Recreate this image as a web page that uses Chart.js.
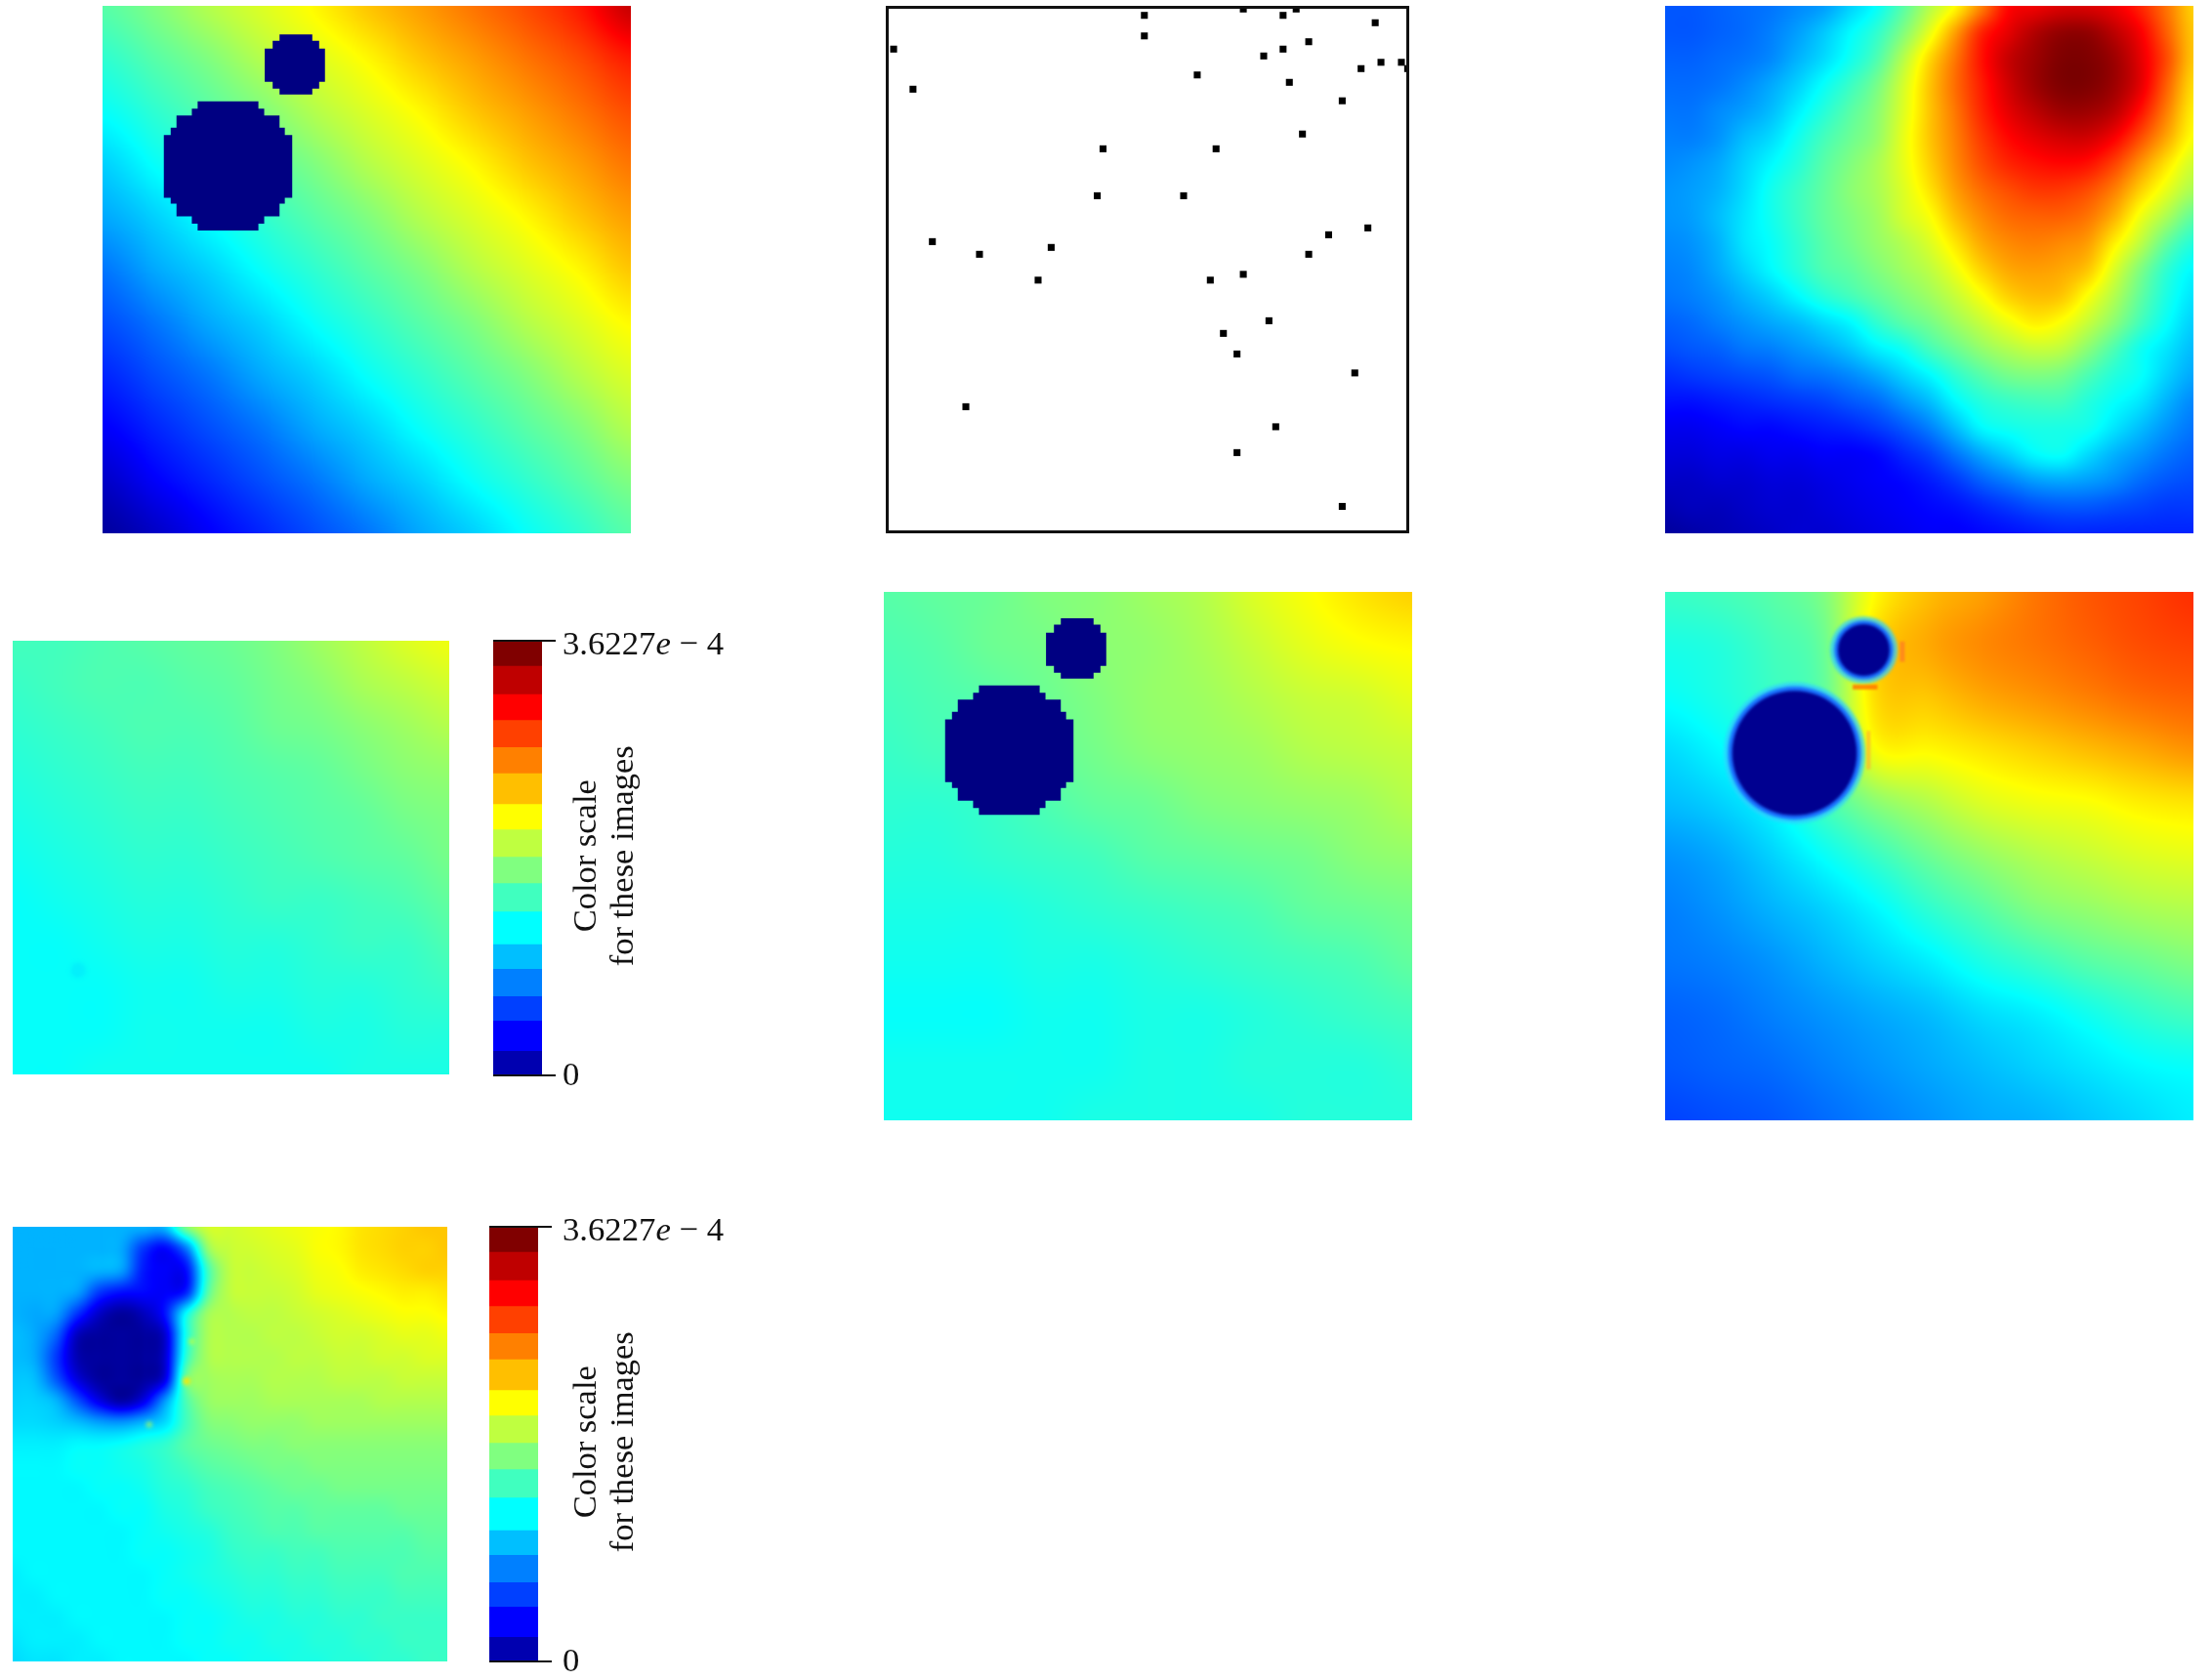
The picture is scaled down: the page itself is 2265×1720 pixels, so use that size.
<!DOCTYPE html>
<html>
<head>
<meta charset="utf-8">
<title>Color scale panels</title>
<script src="https://cdn.jsdelivr.net/npm/chart.js@4/dist/chart.umd.min.js"></script>
<style>
    body { margin: 0; background: #fff; }
    canvas { position: absolute; }
</style>
</head>
<body>
<script>
/* =========================
DATA
fields are percent of the colour scale, sampled every 10% or 5% of a panel, top row first
========================= */
const fieldA = [
    [46,50,55,59,63,68,72,76,80,85,93],
    [42,46,50,55,59,63,68,72,76,80,85],
    [38,42,46,50,55,59,63,68,72,76,80],
    [33,38,42,46,50,55,59,63,68,72,76],
    [29,33,38,42,46,50,55,59,63,68,72],
    [24,29,33,38,42,46,50,55,59,63,68],
    [20,24,29,33,38,42,46,50,55,59,63],
    [16,20,24,29,33,38,42,46,50,55,59],
    [12,16,20,24,29,33,38,42,46,50,55],
    [7,12,16,20,24,29,33,38,42,46,50],
    [3,7,12,16,20,24,29,33,38,42,46]
];
const fieldC = [
    [21,21,22,23,24,26,28,33,38,46,55,63,75,87,89,91,91,89,84,76,67],
    [21,21,22,23,25,28,32,37,42,50,60,72,84,90,95,98,98,94,88,78,68],
    [22,22,23,24,26,30,34,39,45,55,66,76,86,93,97,100,100,97,90,80,68],
    [23,23,24,26,29,33,38,43,49,58,68,77,85,92,97,100,100,97,90,78,66],
    [24,24,26,28,31,36,41,46,51,59,68,76,84,90,94,97,97,94,86,75,64],
    [25,25,27,31,34,39,44,48,52,60,68,75,82,87,90,92,92,88,80,71,62],
    [26,27,29,33,37,41,46,50,54,60,67,74,80,84,86,87,86,81,73,65,58],
    [27,28,30,34,39,43,47,51,54,59,65,72,77,80,82,82,80,75,67,60,54],
    [27,28,31,35,39,43,47,50,53,58,62,69,74,77,78,78,76,70,61,54,47],
    [26,27,30,35,38,42,46,49,52,55,59,65,71,74,75,74,72,64,56,47,41],
    [25,26,29,33,37,41,45,47,50,53,56,61,67,71,72,71,68,59,50,42,37],
    [24,25,27,30,33,37,41,44,47,50,53,57,62,67,69,68,62,55,47,40,35],
    [22,23,25,27,29,31,34,37,42,46,49,53,57,61,64,62,57,51,44,38,33],
    [20,21,22,24,25,27,29,32,36,39,44,48,52,55,57,56,51,45,39,35,31],
    [17,18,19,20,21,23,24,26,29,33,37,42,46,49,50,49,45,41,38,33,29],
    [14,14,15,16,17,18,19,21,23,27,31,37,41,43,44,44,41,38,35,30,26],
    [11,11,12,13,13,14,15,16,18,21,25,31,37,39,40,40,39,35,31,27,24],
    [9,9,10,10,11,11,12,12,13,16,19,24,29,33,37,38,34,30,27,24,22],
    [7,7,8,8,9,9,10,11,12,13,15,18,22,25,28,29,28,26,23,21,20],
    [5,6,6,7,8,8,9,10,11,12,13,14,16,18,20,21,21,20,19,18,18],
    [3,4,5,6,7,8,8,9,10,11,12,12,13,14,15,16,16,16,16,16,16]
];
const fieldD = [
    [44,44,45,46,47,48,50,53,56,59,61],
    [43,44,45,45,46,47,49,51,54,56,58],
    [42,43,44,45,45,46,48,49,51,53,55],
    [41,42,43,44,44,45,46,47,49,51,52],
    [40,41,42,43,43,44,45,46,47,49,50],
    [39,40,41,42,42,43,44,45,46,47,49],
    [38,39,40,41,41,42,43,43,44,45,47],
    [38,38,39,40,40,41,41,42,43,43,45],
    [38,38,38,39,39,40,40,41,41,42,43],
    [38,38,38,39,39,39,39,40,40,41,41],
    [38,38,39,39,39,39,39,39,40,40,40]
];
const fieldE = [
    [46,47,48,50,51,53,55,59,62,65,67],
    [45,46,48,49,51,52,54,57,60,62,63],
    [44,45,46,48,50,52,53,55,57,58,60],
    [43,44,44,47,49,51,52,53,55,56,57],
    [42,42,43,45,47,48,50,51,52,53,55],
    [41,41,42,43,44,46,47,48,49,51,52],
    [40,40,40,41,42,43,44,45,47,48,49],
    [39,39,39,40,40,41,42,43,44,45,47],
    [38,38,38,39,39,40,40,41,42,43,44],
    [39,39,39,39,39,40,40,41,41,41,42],
    [39,39,39,39,40,40,40,40,41,41,41]
];
const fieldF = [
    [43,44,46,50,63,69,72,76,79,81,83],
    [40,41,44,48,66,71,74,76,78,80,81],
    [38,40,43,47,66,68,71,73,75,77,78],
    [34,37,41,46,62,63,65,67,69,71,73],
    [31,33,37,44,51,55,59,61,62,64,65],
    [27,29,33,38,43,48,52,55,57,59,60],
    [25,27,30,33,37,42,46,50,52,54,55],
    [24,25,27,30,33,36,40,43,46,48,50],
    [22,23,25,27,29,31,34,36,39,42,44],
    [21,22,23,25,27,29,31,33,35,37,38],
    [19,20,21,23,25,27,29,30,32,34,36]
];
const fieldG = [
    [30,30,30,30,30,30,30,31,50,58,58,59,60,61,62,63,65,66,67,68,68],
    [30,30,30,30,30,29,18,13,25,52,57,58,59,60,62,63,65,66,67,67,68],
    [30,30,30,30,30,28,15,12,14,44,56,57,58,59,61,62,64,65,66,67,67],
    [30,30,30,28,18,14,13,12,16,46,56,57,57,58,60,61,62,63,64,64,65],
    [30,29,28,17,7,3,6,14,38,53,55,56,56,57,58,59,60,61,62,62,63],
    [31,29,22,6,3,3,3,8,40,54,55,55,56,56,57,58,58,59,60,60,61],
    [31,29,18,5,3,3,3,8,42,54,55,55,55,56,56,57,57,58,58,59,59],
    [32,31,21,9,3,3,3,10,48,53,54,54,55,55,55,56,56,56,57,57,57],
    [33,33,30,20,10,4,10,27,45,52,53,53,54,54,54,54,54,55,55,55,55],
    [34,34,33,31,28,27,30,34,44,50,51,52,52,52,53,53,53,53,53,53,53],
    [36,36,36,37,37,38,40,42,46,48,49,50,50,51,51,51,51,51,51,51,51],
    [37,37,37,38,38,39,40,42,44,46,47,48,49,49,50,50,50,50,50,50,50],
    [37,37,37,37,38,38,39,41,42,44,45,46,47,48,48,49,49,49,49,49,49],
    [37,37,37,37,37,38,38,40,41,43,44,45,46,46,47,47,47,47,48,48,48],
    [37,37,37,37,37,37,38,39,40,41,43,44,45,45,46,46,46,46,46,47,47],
    [37,37,37,37,37,37,38,38,39,40,42,43,43,44,44,45,45,45,45,46,46],
    [36,37,37,37,37,37,37,38,39,40,41,42,42,43,43,44,44,44,45,45,45],
    [36,36,37,37,37,37,37,38,38,39,40,41,41,42,42,43,43,43,44,44,44],
    [36,36,36,37,37,37,37,37,38,38,39,40,40,41,41,42,42,43,43,43,43],
    [35,36,36,36,37,37,37,37,38,38,39,39,40,40,41,41,42,42,43,43,43],
    [34,35,35,36,36,37,37,37,37,38,38,39,39,40,40,41,41,42,42,43,43]
];

// stair-stepped obstacles, one row per band: [top, bottom, left, right] in percent of the panel
const bigDiscRows = [
    [18.1,19.5,18.0,29.5],[19.5,20.8,16.9,30.6],[20.8,23.1,14.0,33.5],[23.1,24.5,12.9,34.5],
    [24.5,36.4,11.6,35.9],[36.4,37.5,12.9,34.5],[37.5,39.9,14.0,33.5],[39.9,41.3,16.9,30.6],[41.3,42.6,18.0,29.5]
];
const smallDiscRows = [
    [5.4,6.6,33.5,39.7],[6.6,8.1,32.2,41.0],[8.1,14.4,30.7,42.1],[14.4,15.7,32.2,41.0],[15.7,16.8,33.5,39.7]
];

// soft discs of the lower right panel: centre and radii (halo, ring, core) in percent of the panel
const softDiscX = [24.5, 37.6];
const softDiscY = [30.5, 11.0];
const softDiscHalo = [13.4, 6.4];
const softDiscRing = [12.6, 5.6];
const softDiscCore = [11.8, 4.9];

// the scattered black samples of the top middle panel
const sampleX = [49.4,68.3,75.9,78.4,93.5,49.4,80.8,1.5,75.9,72.2,94.6,98.5,99.7,90.8,59.5,77.1,5.2,87.2,79.6,41.5,63.1,40.4,56.9,92.1,84.6,8.9,31.6,17.9,80.8,68.3,29.1,62.0,73.2,64.5,67.1,89.6,15.3,74.5,67.1,87.2];
const sampleY = [1.8,0.6,1.8,0.6,3.2,5.7,6.8,8.2,8.2,9.5,10.7,10.7,11.9,11.9,13.1,14.5,15.8,18.0,24.3,27.1,27.1,36.0,36.0,42.1,43.4,44.7,45.8,47.1,47.1,50.9,52.0,52.0,59.7,62.1,66.0,69.6,76.0,79.8,84.7,94.9];

// colour bar, in units of 1e-4
const colorMax = 3.6227;
const colorEdges = [0,0.2008,0.4532,0.6567,0.8846,1.0909,1.3622,1.5983,1.8181,2.0461,2.2577,2.5155,2.7326,2.9578,3.1749,3.4110,3.6227];
const colorBands = ['#0000b0','#0000ff','#0040ff','#0080ff','#00bfff','#00ffff','#40ffbf','#80ff80','#bfff40','#ffff00','#ffbf00','#ff8000','#ff4000','#ff0000','#bf0000','#800000'];
const colorTicks = [0, colorMax];

/* =========================
HELPERS
========================= */
function jet(t) {
    const c = v => Math.round(255 * Math.max(0, Math.min(1, v)));
    return [c(1.5 - Math.abs(4 * t - 3)), c(1.5 - Math.abs(4 * t - 2)), c(1.5 - Math.abs(4 * t - 1))];
}

function fieldCells(rows) {
    const n = rows.length - 1;
    const cells = [];
    rows.forEach((row, j) => row.forEach((v, i) => cells.push({ x: i * 100 / n, y: j * 100 / n, v })));
    return cells;
}

// outline of a stair-stepped disc: down the right side, back up the left side
function discOutline(rows, shift) {
    const pts = [];
    rows.forEach(r => { pts.push({ x: r[3], y: r[0] + shift }, { x: r[3], y: r[1] + shift }); });
    rows.slice().reverse().forEach(r => { pts.push({ x: r[2], y: r[1] + shift }, { x: r[2], y: r[0] + shift }); });
    return pts;
}

function discDataset(rows, shift) {
    return { data: discOutline(rows, shift), fill: 'shape', backgroundColor: '#000082', borderWidth: 0, pointRadius: 0 };
}

function softDiscDataset(radii, color) {
    return {
        data: softDiscX.map((x, i) => ({ x, y: softDiscY[i] })),
        showLine: false,
        soft: 1.5,
        backgroundColor: color,
        borderWidth: 0,
        pointRadius: ctx => {
            const s = ctx.chart.scales.x;
            return s.getPixelForValue(radii[ctx.dataIndex]) - s.getPixelForValue(0);
        }
    };
}

function streak(x1, y1, x2, y2, color, width) {
    return { data: [{ x: x1, y: y1 }, { x: x2, y: y2 }], soft: 1, borderColor: color, borderWidth: width, pointRadius: 0 };
}

function speck(x, y, color, radius) {
    return { data: [{ x, y }], showLine: false, soft: 2, backgroundColor: color, borderWidth: 0, pointRadius: radius };
}

// Catmull-Rom weights, so the sampled field has no kinks between rows
function cubicWeights(f) {
    return [
        f * (-0.5 + f * (1 - 0.5 * f)),
        1 + f * f * (-2.5 + 1.5 * f),
        f * (0.5 + f * (2 - 1.5 * f)),
        f * f * (-0.5 + 0.5 * f)
    ];
}

// paints the first dataset (the field samples) as a smooth image, placed through the scales
const heatField = {
    id: 'heatField',
    beforeDatasetsDraw(chart) {
        const cells = chart.data.datasets[0].data;
        const n = Math.round(Math.sqrt(cells.length));
        const values = cells.map(c => c.v);
        const xs = chart.scales.x, ys = chart.scales.y;
        const left = Math.round(xs.getPixelForValue(0)), right = Math.round(xs.getPixelForValue(100));
        const top = Math.round(ys.getPixelForValue(0)), bottom = Math.round(ys.getPixelForValue(100));
        const w = right - left, h = bottom - top;
        const buffer = document.createElement('canvas');
        buffer.width = w;
        buffer.height = h;
        const bctx = buffer.getContext('2d');
        const img = bctx.createImageData(w, h);
        const at = i => Math.min(n - 1, Math.max(0, i));
        for (let py = 0; py < h; py++) {
            const gy = ys.getValueForPixel(top + py + 0.5) / 100 * (n - 1);
            const j = Math.min(n - 2, Math.max(0, Math.floor(gy)));
            const wy = cubicWeights(gy - j);
            for (let px = 0; px < w; px++) {
                const gx = xs.getValueForPixel(left + px + 0.5) / 100 * (n - 1);
                const i = Math.min(n - 2, Math.max(0, Math.floor(gx)));
                const wx = cubicWeights(gx - i);
                let v = 0;
                for (let b = 0; b < 4; b++) {
                    const row = at(j + b - 1) * n;
                    for (let a = 0; a < 4; a++) {
                        v += wy[b] * wx[a] * values[row + at(i + a - 1)];
                    }
                }
                const rgb = jet(v / 100);
                const k = (py * w + px) * 4;
                img.data[k] = rgb[0];
                img.data[k + 1] = rgb[1];
                img.data[k + 2] = rgb[2];
                img.data[k + 3] = 255;
            }
        }
        bctx.putImageData(img, 0, 0);
        chart.ctx.drawImage(buffer, left, top);
    },
    // overlays with a soft flag get a little blur
    beforeDatasetDraw(chart, args) {
        const soft = chart.data.datasets[args.index].soft;
        if (soft) chart.ctx.filter = `blur(${soft}px)`;
    },
    afterDatasetDraw(chart) {
        chart.ctx.filter = 'none';
    }
};

// black box round the sample panel
const panelFrame = {
    id: 'panelFrame',
    afterDraw(chart) {
        const { ctx, chartArea: a } = chart;
        ctx.save();
        ctx.strokeStyle = '#111';
        ctx.lineWidth = 3;
        ctx.strokeRect(a.left + 1.5, a.top + 1.5, a.right - a.left - 3, a.bottom - a.top - 3);
        ctx.restore();
    }
};

// tick labels with the italic e, and the rotated two line caption
const colorBarText = {
    id: 'colorBarText',
    afterDraw(chart) {
        const { ctx } = chart;
        const y = chart.scales.y;
        const labelX = 576 - chart.canvas.offsetLeft;
        const capX = 609.5 - chart.canvas.offsetLeft;
        const capY = y.getPixelForValue(colorMax * 0.505);
        ctx.save();
        ctx.fillStyle = '#111';
        ctx.textBaseline = 'alphabetic';
        const base = y.getPixelForValue(colorMax) + 14;
        let tx = labelX;
        [['3.6227', ''], ['e', 'italic '], [' \u2212 4', '']].forEach(part => {
            ctx.font = part[1] + '34.7px "Liberation Serif"';
            ctx.fillText(part[0], tx, base);
            tx += ctx.measureText(part[0]).width;
        });
        ctx.fillText('0', labelX, y.getPixelForValue(0) + 10);
        ctx.font = '34.5px "Liberation Serif"';
        ctx.translate(capX, capY);
        ctx.rotate(-Math.PI / 2);
        ctx.textAlign = 'center';
        ctx.fillText('Color scale', 0, 0);
        ctx.fillText('for these images', 0, 38);
        ctx.restore();
    }
};

/* =========================
CHART BUILDERS
========================= */
function addCanvas(left, top, width, height) {
    const canvas = document.createElement('canvas');
    canvas.width = width;
    canvas.height = height;
    canvas.style.left = left + 'px';
    canvas.style.top = top + 'px';
    document.body.appendChild(canvas);
    return canvas;
}

const panelOptions = {
    responsive: false,
    animation: false,
    layout: { autoPadding: false, padding: 0 },
    plugins: { legend: { display: false }, tooltip: { enabled: false } },
    scales: {
        x: { type: 'linear', min: 0, max: 100, display: false },
        y: { type: 'linear', min: 0, max: 100, reverse: true, display: false }
    }
};

function heatPanel(left, top, width, height, rows, overlays) {
    new Chart(addCanvas(left, top, width, height), {
        type: 'line',
        data: {
            datasets: [{ data: fieldCells(rows), showLine: false, pointRadius: 0 }].concat(overlays)
        },
        options: panelOptions,
        plugins: [heatField]
    });
}

function colorBar(barLeft, top, bottom) {
    const padTop = 24, padBottom = 24;
    const canvasTop = top - padTop;
    new Chart(addCanvas(barLeft, canvasTop, 250, bottom - top + padTop + padBottom), {
        type: 'bar',
        data: {
            labels: ['scale'],
            datasets: colorBands.map((color, i) => ({
                data: [[colorEdges[i], colorEdges[i + 1]]],
                backgroundColor: color,
                borderWidth: 0,
                barPercentage: 1,
                categoryPercentage: 1
            }))
        },
        options: {
            responsive: false,
            animation: false,
            layout: { padding: { top: padTop, bottom: padBottom, right: 186 } },
            plugins: { legend: { display: false }, tooltip: { enabled: false } },
            scales: {
                x: { stacked: true, display: false },
                y: {
                    position: 'right',
                    min: 0,
                    max: colorMax,
                    afterBuildTicks: scale => { scale.ticks = colorTicks.map(value => ({ value })); },
                    ticks: { display: false },
                    border: { display: false },
                    grid: { color: '#111', lineWidth: 2, tickLength: 14, z: 1 }
                }
            }
        },
        plugins: [colorBarText]
    });
}

/* =========================
PANELS
========================= */
const hardDiscs = shift => [discDataset(bigDiscRows, shift), discDataset(smallDiscRows, shift)];

heatPanel(105, 6, 541, 540, fieldA, hardDiscs(0));

new Chart(addCanvas(907, 6, 536, 540), {
    type: 'scatter',
    data: {
        datasets: [{
            data: sampleX.map((x, i) => ({ x, y: sampleY[i] })),
            pointStyle: 'rect',
            pointRadius: 5,
            backgroundColor: '#000',
            borderWidth: 0
        }]
    },
    options: panelOptions,
    plugins: [panelFrame]
});

heatPanel(1705, 6, 541, 540, fieldC, []);

heatPanel(13, 656, 447, 444, fieldD, [
    speck(15, 76, 'rgba(0,205,255,0.3)', 8)
]);
colorBar(505, 656, 1101);

heatPanel(905, 606, 541, 541, fieldE, hardDiscs(-0.4));

heatPanel(1705, 606, 541, 541, fieldF, [
    streak(44.9, 9.4, 44.9, 13.2, 'rgba(255,128,32,0.8)', 5),
    streak(35.5, 18, 40.2, 18, 'rgba(255,112,0,0.8)', 5),
    streak(38.5, 26.3, 38.5, 33.6, 'rgba(255,176,48,0.7)', 4),
    softDiscDataset(softDiscCore, '#000090'),
    softDiscDataset(softDiscRing, '#1a70ff'),
    softDiscDataset(softDiscHalo, 'rgba(48,208,255,0.75)')
]);

heatPanel(13, 1256, 445, 445, fieldG, [
    speck(41.2, 26.4, 'rgba(220,255,32,0.7)', 3),
    speck(40, 35.5, 'rgba(255,232,0,0.9)', 4),
    speck(31.4, 45.5, 'rgba(176,255,80,0.8)', 3)
]);
colorBar(501, 1256, 1701);
</script>
</body>
</html>
